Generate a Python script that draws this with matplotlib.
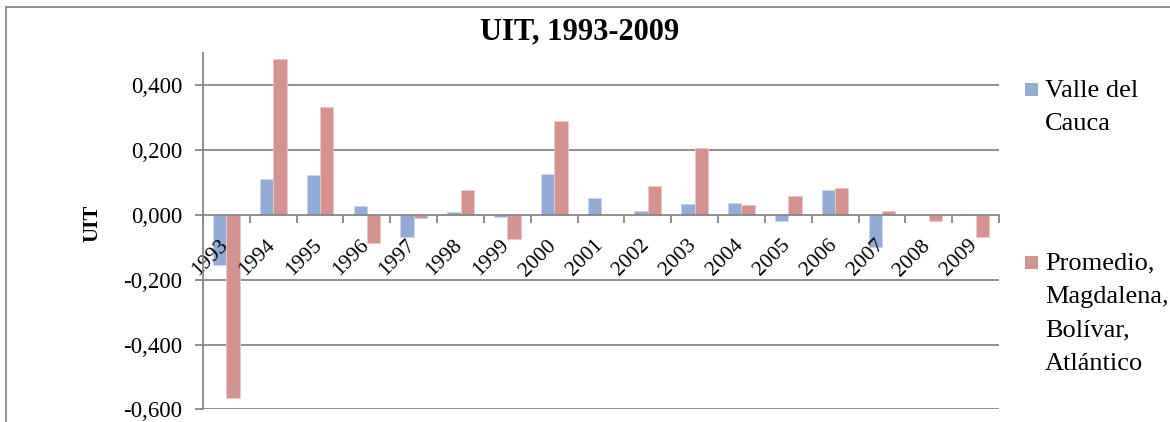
import matplotlib
matplotlib.use("Agg")
import matplotlib.pyplot as plt
import matplotlib.transforms as mtransforms
from matplotlib.patches import Rectangle
from matplotlib.ticker import FuncFormatter
import numpy as np

years = ["1993", "1994", "1995", "1996", "1997", "1998", "1999", "2000", "2001",
         "2002", "2003", "2004", "2005", "2006", "2007", "2008", "2009"]
valle = [-0.153, 0.111, 0.122, 0.029, -0.069, 0.008, -0.006, 0.126, 0.052,
         0.013, 0.035, 0.037, -0.019, 0.078, -0.099, 0.000, 0.004]
promedio = [-0.564, 0.481, 0.334, -0.088, -0.009, 0.077, -0.075, 0.290, 0.000,
            0.090, 0.206, 0.032, 0.060, 0.084, 0.011, -0.019, -0.068]
series_names = ["Valle del\nCauca", "Promedio,\nMagdalena,\nBolívar,\nAtlántico"]
yticks = [-0.6, -0.4, -0.2, 0.0, 0.2, 0.4]

plt.rcParams['font.family'] = ['Liberation Serif', 'DejaVu Serif']

W, H = 1170, 422
fig = plt.figure(figsize=(W / 100, H / 100), dpi=100)
fig.patch.set_facecolor('white')

L, R, T, B = 203, 999, 53, 409.3
ax = fig.add_axes([L / W, 1 - B / H, (R - L) / W, (B - T) / H])

blue = '#94ABD5'
red = '#D49393'
gray = '#878787'

x = np.arange(len(years))
w = 0.285
ax.bar(x - w / 2, valle, w, color=blue, edgecolor='#C9D5EA', linewidth=0.6, zorder=1)
ax.bar(x + w / 2, promedio, w, color=red, edgecolor='#EBC9C9', linewidth=0.6, zorder=1)

ax.set_xlim(-0.5, len(years) - 0.5)
ax.set_ylim(-0.6, 0.5)

for v in yticks:
    if v != 0:
        ax.axhline(v, color=gray, linewidth=1.3, zorder=0.5)

ax.set_yticks(yticks)
ax.yaxis.set_major_formatter(FuncFormatter(lambda v, p: f"{v:.3f}".replace('.', ',')))
ax.tick_params(axis='y', direction='out', length=6, width=1.3, color=gray, pad=9,
               labelsize=16.5)

ax.spines['top'].set_visible(False)
ax.spines['right'].set_visible(False)
ax.spines['left'].set_color(gray)
ax.spines['left'].set_linewidth(1.3)
ax.spines['bottom'].set_position(('data', 0))
ax.spines['bottom'].set_color(gray)
ax.spines['bottom'].set_linewidth(1.3)

ax.set_xticks(x, years, rotation=45, ha='right', va='center', rotation_mode='anchor')
ax.set_xticks(np.arange(-0.5, len(years), 1.0), minor=True)
ax.tick_params(axis='x', which='major', length=0, pad=20, labelsize=15.5)
ax.tick_params(axis='x', which='minor', direction='out', length=6, width=1.3, color=gray)
offset = mtransforms.ScaledTranslation(-0.01, 0, fig.dpi_scale_trans)
for lab in ax.get_xticklabels():
    lab.set_transform(lab.get_transform() + offset)

ax.set_ylabel("UIT", fontsize=15, fontweight='bold')
ax.yaxis.set_label_coords((102 - L) / (R - L), (B - 223) / (B - T))

fig.text(580 / W, 1 - 39.3 / H, "UIT, 1993-2009", fontsize=22, fontweight='bold',
         ha='center', va='baseline')

# legend (manual, Excel-like)
leg_colors = [blue, red]
leg_baselines = [96.6, 269.6]
line_step = 33.3
for name, col, yb in zip(series_names, leg_colors, leg_baselines):
    fig.patches.append(Rectangle((1025 / W, 1 - (yb - 1) / H), 13 / W, 13 / H,
                                 transform=fig.transFigure, facecolor=col,
                                 edgecolor='none'))
    for k, line in enumerate(name.split('\n')):
        fig.text(1045 / W, 1 - (yb + k * line_step) / H, line, fontsize=19,
                 ha='left', va='baseline')

# outer chart border
fig.patches.append(Rectangle((6 / W, -0.1), 1.2, 1 - 7 / H + 0.1,
                             transform=fig.transFigure, facecolor='none',
                             edgecolor=gray, linewidth=1.3))

fig.savefig("out.png", dpi=100)
